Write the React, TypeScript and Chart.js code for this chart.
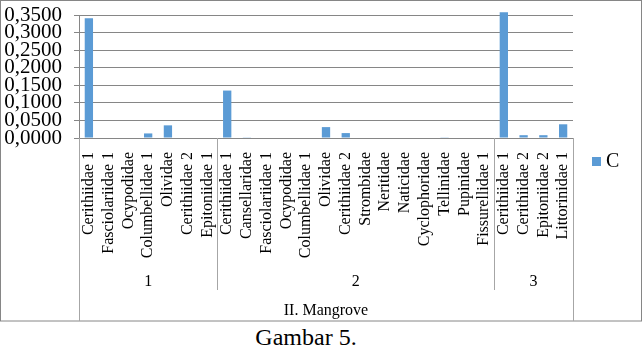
import React, { useEffect, useRef } from "react";
import { Chart, registerables } from "chart.js";

Chart.register(...registerables);

const categories: string[] = [
  "Cerithiidae 1", "Fasciolariidae 1", "Ocypodidae", "Columbellidae 1", "Olividae", "Cerithiidae 2", "Epitoniidae 1",
  "Cerithiidae 1", "Cansellaridae", "Fasciolariidae 1", "Ocypodidae", "Columbellidae 1", "Olividae", "Cerithiidae 2",
  "Strombidae", "Neritidae", "Naticidae", "Cyclophoridae", "Tellinidae", "Pupinidae", "Fissurellidae 1",
  "Cerithiidae 1", "Cerithiidae 2", "Epitoniidae 2", "Littorinidae 1",
];

const valuesC: number[] = [
  0.341, 0, 0, 0.013, 0.036, 0, 0,
  0.135, 0.002, 0, 0, 0, 0.031, 0.014,
  0, 0, 0, 0, 0.002, 0, 0,
  0.358, 0.008, 0.008, 0.039,
];

const groupNames: string[] = ["1", "2", "3"];
const groupSizes: number[] = [7, 14, 4];
const outerLabel = "II. Mangrove";
const seriesName = "C";
const yTicks: number[] = [0, 0.05, 0.1, 0.15, 0.2, 0.25, 0.3, 0.35];
const caption = "Gambar 5.";

const BLUE = "#5B9BD5";
const FONT = "'Liberation Serif', 'Times New Roman', serif";

const decorPlugin = {
  id: "decor",
  afterDraw(chart: any) {
    const ctx = chart.ctx as CanvasRenderingContext2D;
    const xs = chart.scales.x;
    const area = chart.chartArea;
    const W = chart.width;
    const H = chart.height;
    ctx.save();
    // frame
    ctx.strokeStyle = "#868686";
    ctx.lineWidth = 1;
    ctx.strokeRect(0.5, 0.5, W - 1, H - 1.5);

    // group boundaries
    const bounds: number[] = [0];
    groupSizes.forEach((s) => bounds.push(bounds[bounds.length - 1] + s));
    const total = categories.length;
    const px = (b: number) => {
      if (b === 0) return area.left;
      if (b === total) return area.right;
      return (xs.getPixelForValue(b - 1) + xs.getPixelForValue(b)) / 2;
    };
    ctx.strokeStyle = "#a6a6a6";
    bounds.forEach((b) => {
      const x = Math.round(px(b)) + 0.5;
      const outer = b === 0 || b === total;
      ctx.beginPath();
      ctx.moveTo(x, area.bottom);
      ctx.lineTo(x, outer ? H - 1 : 290);
      ctx.stroke();
    });

    ctx.fillStyle = "#000";
    ctx.textAlign = "center";
    ctx.textBaseline = "middle";
    ctx.font = `16px ${FONT}`;
    groupNames.forEach((g, i) => {
      const x = (px(bounds[i]) + px(bounds[i + 1])) / 2;
      ctx.fillText(g, x, 282);
    });
    ctx.fillText(outerLabel, (area.left + area.right) / 2, 311);

    // legend
    ctx.fillStyle = BLUE;
    ctx.fillRect(592, 157, 9, 9);
    ctx.fillStyle = "#000";
    ctx.textAlign = "left";
    ctx.font = `20px ${FONT}`;
    ctx.fillText(seriesName, 606, 162);
    ctx.restore();
  },
};

export default function App() {
  const ref = useRef<HTMLCanvasElement | null>(null);

  useEffect(() => {
    document.body.style.margin = "0";
    if (!ref.current) return;
    const chart = new Chart(ref.current, {
      type: "bar",
      data: {
        labels: categories,
        datasets: [
          {
            label: seriesName,
            data: valuesC,
            backgroundColor: BLUE,
            borderWidth: 0,
            categoryPercentage: 1,
            barPercentage: 0.42,
            clip: false as any,
          },
        ],
      },
      options: {
        animation: false,
        responsive: false,
        maintainAspectRatio: false,
        layout: { padding: { top: 15, right: 69, bottom: 0, left: 0 } },
        plugins: {
          legend: { display: false },
          tooltip: { enabled: false },
        },
        scales: {
          x: {
            grid: { display: false },
            border: { display: true, color: "#868686" },
            ticks: {
              autoSkip: false,
              maxRotation: 90,
              minRotation: 90,
              padding: 6,
              color: "#000",
              font: { family: FONT, size: 16 },
            },
            afterFit(scale: any) {
              scale.height = 184;
              scale.paddingLeft = 0;
              scale.paddingRight = 0;
            },
          },
          y: {
            min: 0,
            max: 0.35,
            afterBuildTicks(scale: any) {
              scale.ticks = yTicks.map((v) => ({ value: v }));
            },
            grid: { color: "#868686", tickLength: 5 },
            border: { display: true, color: "#868686" },
            ticks: {
              autoSkip: false,
              padding: 12,
              color: "#000",
              font: { family: FONT, size: 21 },
              callback: (v: any) => Number(v).toFixed(4).replace(".", ","),
            },
            afterFit(scale: any) {
              scale.width = 79;
              scale.paddingTop = 0;
              scale.paddingBottom = 0;
            },
          },
        },
      },
      plugins: [decorPlugin],
    });
    return () => chart.destroy();
  }, []);

  return (
    <div style={{ position: "relative", width: 642, height: 351, background: "#fff" }}>
      <canvas ref={ref} width={642} height={322} style={{ position: "absolute", left: 0, top: 0 }} />
      <div
        style={{
          position: "absolute",
          left: 0,
          top: 325,
          width: 612,
          textAlign: "center",
          fontFamily: FONT,
          fontSize: 24,
          lineHeight: "24px",
          color: "#000",
        }}
      >
        {caption}
      </div>
    </div>
  );
}
